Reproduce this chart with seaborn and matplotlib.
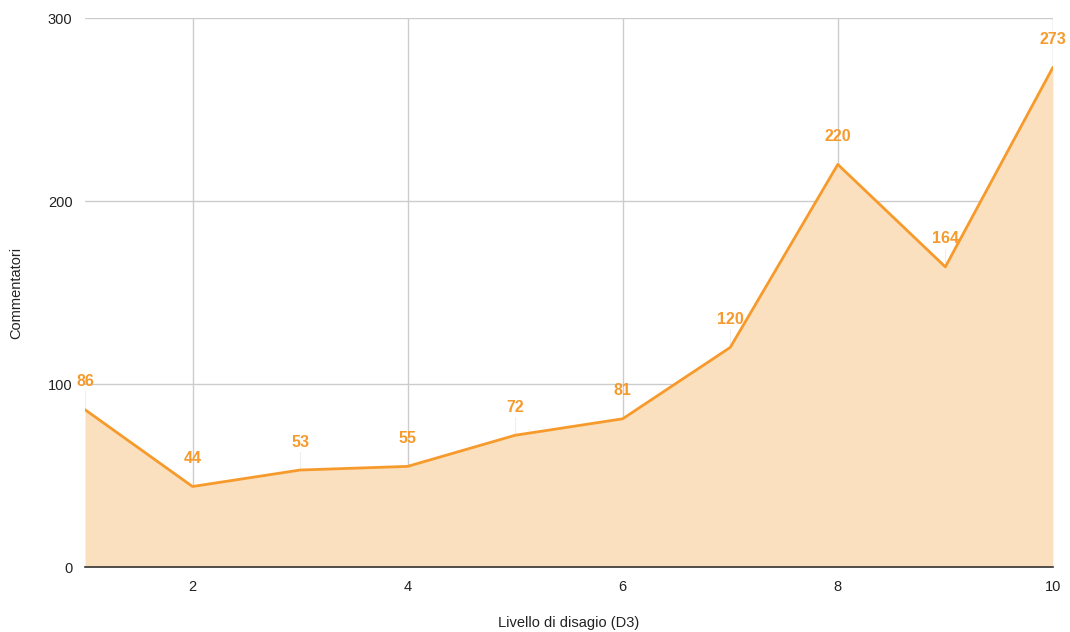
import matplotlib
matplotlib.use("Agg")
import matplotlib.pyplot as plt
import seaborn as sns
import pandas as pd

levels = [1, 2, 3, 4, 5, 6, 7, 8, 9, 10]
commentators = [86, 44, 53, 55, 72, 81, 120, 220, 164, 273]
x_ticks = [2, 4, 6, 8, 10]
y_ticks = [0, 100, 200, 300]

sns.set_theme(style="white")
plt.rcParams['font.family'] = ['Liberation Sans', 'DejaVu Sans']

df = pd.DataFrame({"level": levels, "count": commentators})

fig = plt.figure(figsize=(10.7, 6.32), dpi=100)
ax = fig.add_axes([0.0794, 0.1028, 0.9046, 0.8687])

line_c = "#F79A2C"
fill_c = "#FBE0BF"

ax.fill_between(df["level"], df["count"], 0, color=fill_c, linewidth=0, zorder=1)
sns.lineplot(data=df, x="level", y="count", ax=ax, color=line_c, linewidth=2, zorder=3)

for xv, yv in zip(levels, commentators):
    ax.plot([xv, xv], [yv, yv + 10], color="#eeeeee", linewidth=0.8, zorder=0.5)
    ax.annotate(str(yv), (xv, yv), xytext=(0, 28), textcoords="offset pixels",
                ha="center", va="center", color=line_c, fontsize=11.5,
                fontweight="bold", zorder=4)

ax.set_xlim(1, 10)
ax.set_ylim(0, 300)
ax.set_xticks(x_ticks)
ax.set_yticks(y_ticks)
ax.grid(True, color="#cccccc", linewidth=1)
ax.set_axisbelow(True)
for s in ["left", "right", "top"]:
    ax.spines[s].set_visible(False)
ax.spines["bottom"].set_color("#333333")
ax.spines["bottom"].set_linewidth(1.2)
ax.spines["bottom"].set_zorder(5)
ax.tick_params(axis="both", length=0, labelsize=10.5, colors="#222222", pad=9)
ax.set_xlabel("Livello di disagio (D3)", fontsize=10.5, color="#222222", labelpad=16)
ax.set_ylabel("Commentatori", fontsize=10.5, color="#222222", labelpad=18)

fig.savefig("out.png", dpi=100)
